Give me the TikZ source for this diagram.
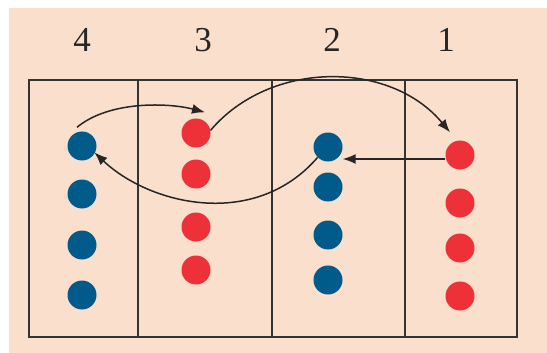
\documentclass[tikz,border=0pt]{standalone}
\usepackage{fontspec}
\setmainfont{Liberation Serif}
\usetikzlibrary{arrows.meta}
\definecolor{bgpeach}{HTML}{FBDFCD}
\definecolor{dotblue}{HTML}{005A8A}
\definecolor{dotred}{HTML}{EE3139}
\definecolor{linegray}{HTML}{333333}
\tikzset{
  bdot/.style={circle,fill=dotblue,inner sep=0pt,minimum size=29pt},
  rdot/.style={circle,fill=dotred,inner sep=0pt,minimum size=29pt},
  numlabel/.style={font=\fontsize{35}{35}\selectfont,text=black!85,inner sep=0pt},
  court/.style={draw=linegray,line width=1.8pt},
  move/.style={draw=black!85,line width=1.5pt,-{Latex[length=13pt,width=10pt]}}
}
\begin{document}
\begin{tikzpicture}[x=1pt,y=-1pt]
\useasboundingbox (0,0) rectangle (547,353);
\fill[bgpeach] (9,8) rectangle (547,353);
% court
\draw[court] (29,80) rectangle (517,337);
\draw[court] (138,80) -- (138,337);
\draw[court] (272,80) -- (272,337);
\draw[court] (405,80) -- (405,337);
% zone numbers
\node[numlabel] (n4) at (82,40) {4};
\node[numlabel] (n3) at (203,40) {3};
\node[numlabel] (n2) at (332,40) {2};
\node[numlabel] (n1) at (446,40) {1};
% zone 4 (blue)
\node[bdot] (b41) at (82,146) {};
\node[bdot] (b42) at (82,194) {};
\node[bdot] (b43) at (82,245) {};
\node[bdot] (b44) at (82,295) {};
% zone 3 (red)
\node[rdot] (r31) at (196,133) {};
\node[rdot] (r32) at (196,174) {};
\node[rdot] (r33) at (196,227) {};
\node[rdot] (r34) at (196,270) {};
% zone 2 (blue)
\node[bdot] (b21) at (328,147) {};
\node[bdot] (b22) at (328,187) {};
\node[bdot] (b23) at (328,235) {};
\node[bdot] (b24) at (328,280) {};
% zone 1 (red)
\node[rdot] (r11) at (460,155) {};
\node[rdot] (r12) at (460,203) {};
\node[rdot] (r13) at (460,248) {};
\node[rdot] (r14) at (460,296) {};
% moves
\draw[move] ([shift={(-5pt,4pt)}]b41.north) .. controls (110,100) and (170,103) .. ([shift={(9pt,6pt)}]r31.north);
\draw[move] (r31.10) .. controls (270,60) and (390,60) .. ([shift={(-10pt,8pt)}]r11.north);
\draw[move] ([yshift=-4pt]r11.west) -- ([yshift=-4pt]r11.west -| b21.east);
\draw[move] (b21.225) .. controls (255,230) and (150,205) .. ([shift={(2pt,4pt)}]b41.south east);
\end{tikzpicture}
\end{document}
